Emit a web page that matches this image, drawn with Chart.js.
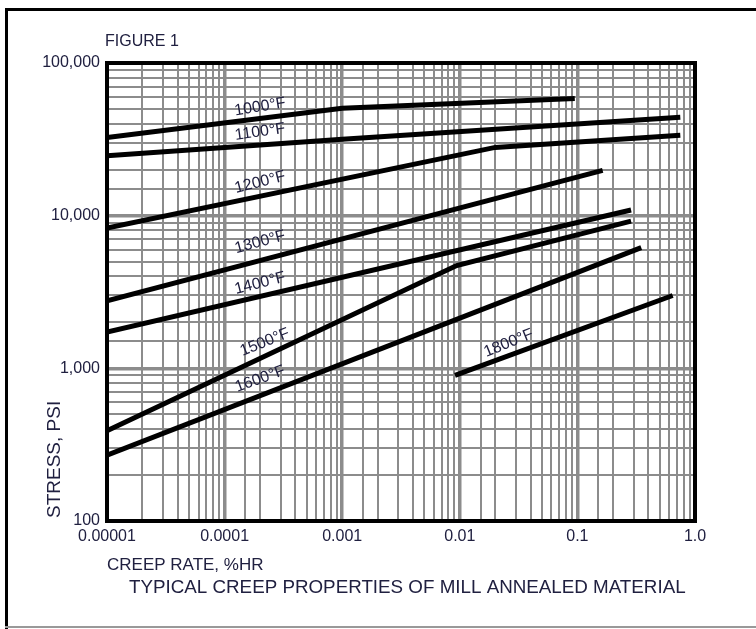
<!DOCTYPE html>
<html>
<head>
<meta charset="utf-8">
<script src="https://cdn.jsdelivr.net/npm/chart.js@4.4.1/dist/chart.umd.min.js"></script>
<style>
  body { margin: 0; background: #fff; }
  canvas { display: block; }
</style>
</head>
<body>
<canvas id="creepChart" width="756" height="629"></canvas>
<script>
// creep rate (%/hr) vs stress (psi)
const temps = ['1000°F', '1100°F', '1200°F', '1300°F', '1400°F', '1500°F', '1600°F', '1800°F'];

const rate1000 = [0.00001, 0.001, 0.095];
const stress1000 = [32500, 50500, 58500];
const rate1100 = [0.00001, 0.001, 0.75];
const stress1100 = [24700, 31700, 44200];
const rate1200 = [0.00001, 0.02, 0.75];
const stress1200 = [8300, 28000, 33600];
const rate1300 = [0.00001, 0.164];
const stress1300 = [2770, 19800];
const rate1400 = [0.00001, 0.286];
const stress1400 = [1730, 10900];
const rate1500 = [0.00001, 0.0094, 0.286];
const stress1500 = [390, 4710, 9200];
const rate1600 = [0.00001, 0.349];
const stress1600 = [270, 6180];
const rate1800 = [0.0091, 0.646];
const stress1800 = [900, 3000];

const rates = [rate1000, rate1100, rate1200, rate1300, rate1400, rate1500, rate1600, rate1800];
const stresses = [stress1000, stress1100, stress1200, stress1300, stress1400, stress1500, stress1600, stress1800];

// where each temperature label sits (data coords) and its slant
const labelRate = [0.0002, 0.0002, 0.0002, 0.0002, 0.0002, 0.00022, 0.0002, 0.026];
const labelStress = [51500, 35300, 16500, 6700, 3600, 1480, 850, 1460];
const labelAngle = [-9, -8, -14, -15, -14, -22, -20, -22];

const xDecades = [0.00001, 0.0001, 0.001, 0.01, 0.1, 1];
const xTickLabels = ['0.00001', '0.0001', '0.001', '0.01', '0.1', '1.0'];
const yDecades = [100, 1000, 10000, 100000];
const yTickLabels = ['100', '1,000', '10,000', '100,000'];

const FONT = '"Liberation Sans", Arial, sans-serif';
const INK = '#202040';

function decadeIndex(list, v) {
  return list.findIndex(d => Math.abs(Math.log10(v) - Math.log10(d)) < 1e-6);
}

function gridWidth(list) {
  return ctx => (ctx.tick && decadeIndex(list, ctx.tick.value) >= 0) ? 3.5 : 2;
}

const datasets = temps.map((t, i) => ({
  label: t,
  data: rates[i].map((r, j) => ({ x: r, y: stresses[i][j] })),
  borderColor: '#000',
  borderWidth: 5,
  borderCapStyle: 'butt',
  pointRadius: 0,
  tension: 0,
  fill: false
}));

const annotate = {
  id: 'annotate',
  afterDatasetsDraw(chart) {
    const { ctx, chartArea: a, scales: { x, y } } = chart;
    ctx.save();
    ctx.strokeStyle = '#000';
    ctx.lineWidth = 4;
    ctx.strokeRect(a.left, a.top, a.right - a.left, a.bottom - a.top);

    ctx.fillStyle = INK;
    ctx.font = '16px ' + FONT;
    ctx.textAlign = 'center';
    ctx.textBaseline = 'middle';
    temps.forEach((t, i) => {
      ctx.save();
      ctx.translate(x.getPixelForValue(labelRate[i]), y.getPixelForValue(labelStress[i]));
      ctx.rotate(labelAngle[i] * Math.PI / 180);
      ctx.fillText(t, 0, 0);
      ctx.restore();
    });
    ctx.restore();
  },
  afterDraw(chart) {
    const { ctx } = chart;
    ctx.save();
    // page frame
    ctx.fillStyle = '#000';
    ctx.fillRect(5, 8, 751, 3);
    ctx.fillRect(5, 8, 3, 621);
    ctx.fillStyle = '#999';
    ctx.fillRect(5, 626, 751, 2);

    ctx.fillStyle = INK;
    ctx.textBaseline = 'middle';
    ctx.textAlign = 'left';
    ctx.font = '16px ' + FONT;
    ctx.fillText('FIGURE 1', 105, 42);
    ctx.font = '17px ' + FONT;
    ctx.fillText('CREEP RATE, %HR', 107, 565);
    ctx.font = '18.8px ' + FONT;
    ctx.fillText('TYPICAL CREEP PROPERTIES OF MILL ANNEALED MATERIAL', 129, 588);

    ctx.save();
    ctx.translate(55, 518);
    ctx.rotate(-Math.PI / 2);
    ctx.font = '19px ' + FONT;
    ctx.fillText('STRESS, PSI', 0, 0);
    ctx.restore();
    ctx.restore();
  }
};

new Chart(document.getElementById('creepChart').getContext('2d'), {
  type: 'line',
  data: { datasets },
  options: {
    responsive: false,
    animation: false,
    layout: { padding: { top: 63, right: 61, left: 0, bottom: 0 } },
    plugins: { legend: { display: false }, tooltip: { enabled: false } },
    scales: {
      x: {
        type: 'logarithmic',
        min: 0.00001,
        max: 1,
        afterFit: s => { s.height = 108; },
        border: { display: false },
        grid: { color: '#8c8c8c', lineWidth: gridWidth(xDecades), drawTicks: false },
        ticks: {
          autoSkip: false,
          maxRotation: 0,
          padding: 6,
          color: INK,
          font: { family: FONT, size: 16 },
          callback: v => {
            const k = decadeIndex(xDecades, v);
            return k >= 0 ? xTickLabels[k] : '';
          }
        }
      },
      y: {
        type: 'logarithmic',
        min: 100,
        max: 100000,
        afterFit: s => { s.width = 107; },
        border: { display: false },
        grid: { color: '#8c8c8c', lineWidth: gridWidth(yDecades), drawTicks: false },
        ticks: {
          autoSkip: false,
          padding: 7,
          color: INK,
          font: { family: FONT, size: 16 },
          callback: v => {
            const k = decadeIndex(yDecades, v);
            return k >= 0 ? yTickLabels[k] : '';
          }
        }
      }
    }
  },
  plugins: [annotate]
});
</script>
</body>
</html>
